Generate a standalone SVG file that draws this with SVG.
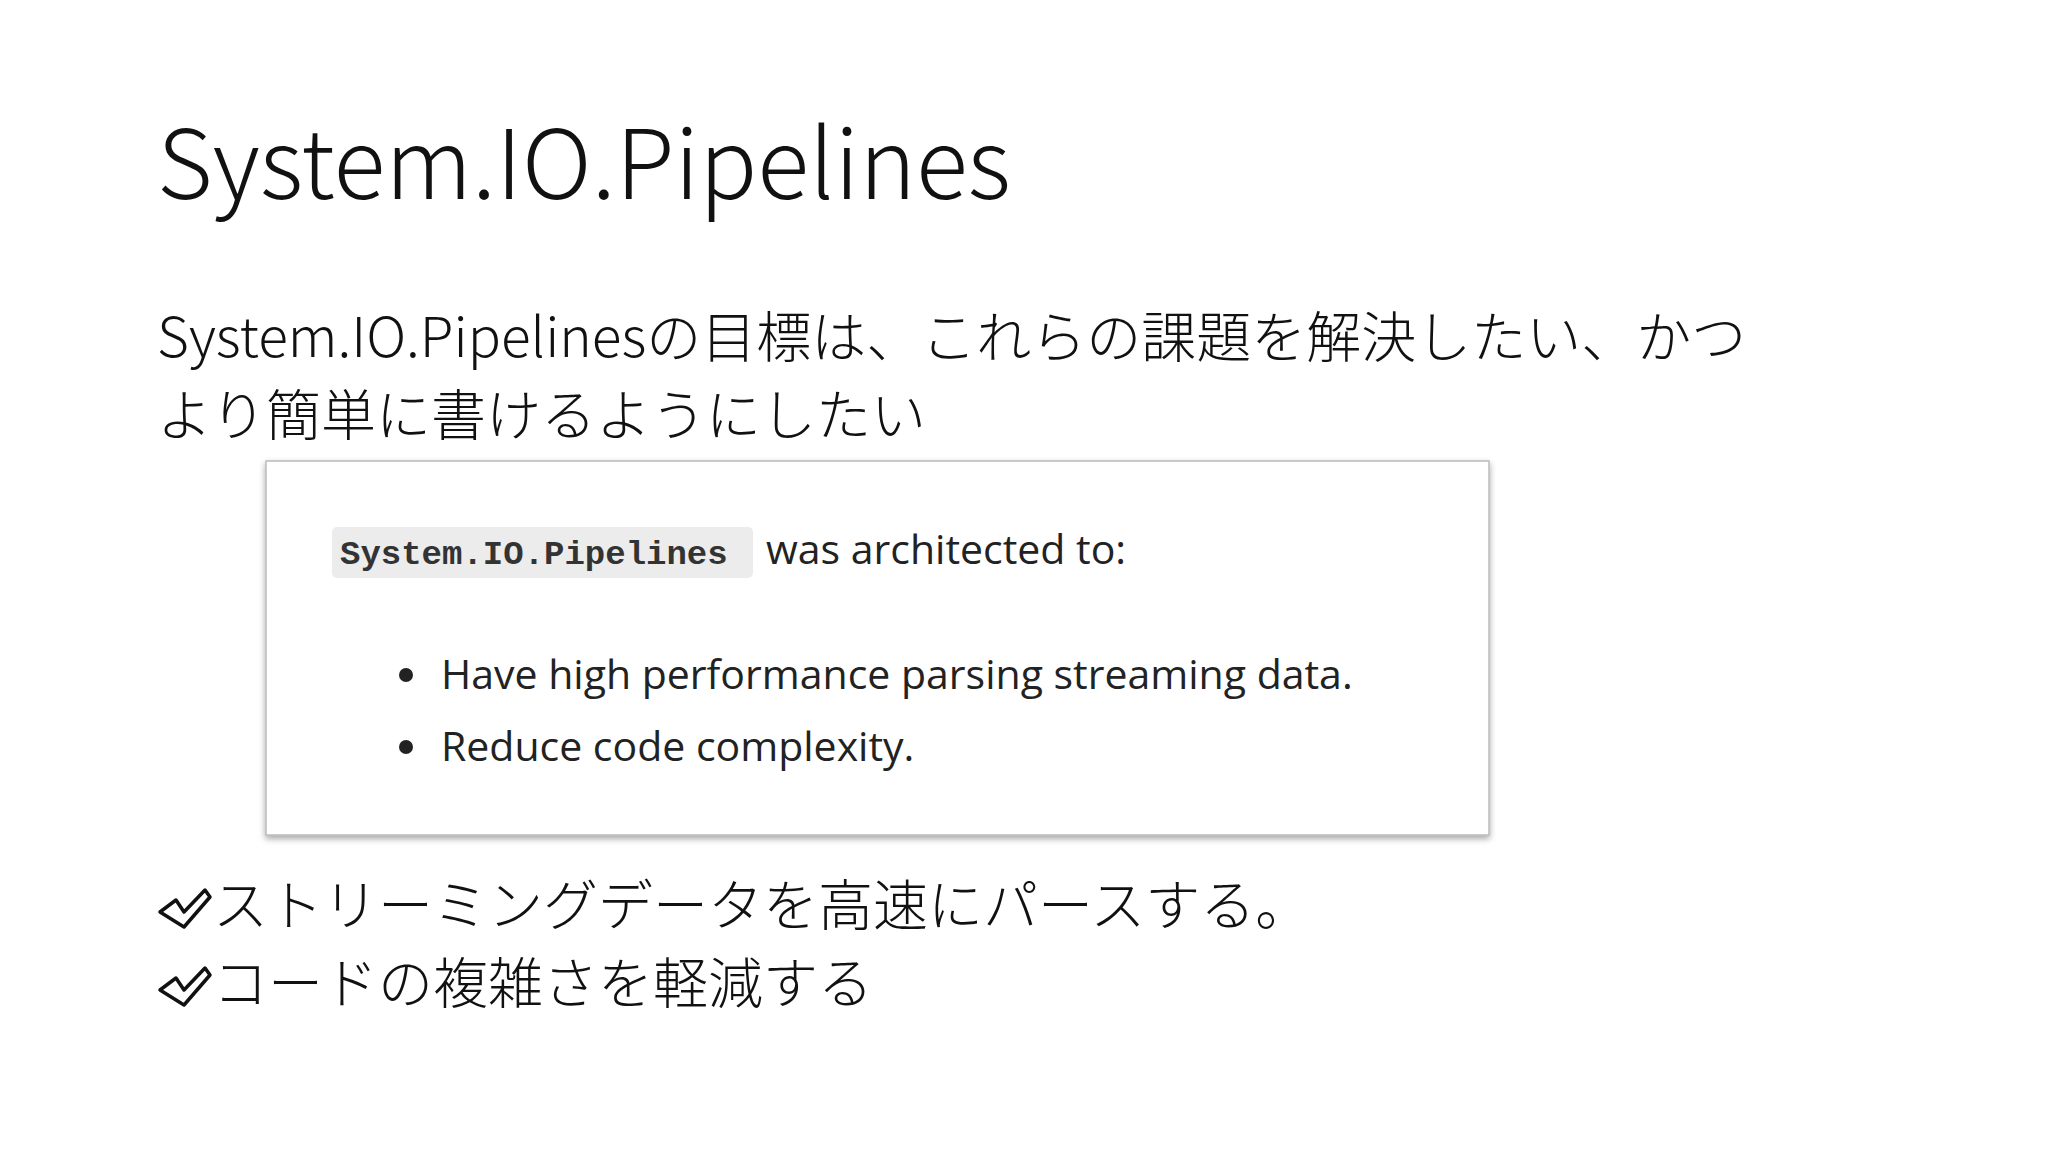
<svg xmlns="http://www.w3.org/2000/svg" width="2048" height="1152" viewBox="0 0 2048 1152">
<defs>
<style>
.jp{font-family:"Noto Sans CJK JP","Noto Sans",sans-serif;font-weight:300;fill:#111}
.in{font-family:"Open Sans","Noto Sans",sans-serif;fill:#222}
.chk{fill:none;stroke:#111;stroke-width:3.5;stroke-linejoin:round}
</style>
<filter id="sh" x="-5%" y="-5%" width="110%" height="115%"><feDropShadow dx="0" dy="3" stdDeviation="3" flood-color="#000" flood-opacity="0.35"/></filter>
</defs>
<rect width="2048" height="1152" fill="#fff"/>
<g id="title"><text class="jp" x="157" y="199" font-size="96">System.IO.Pipelines</text></g>
<g id="body">
<text class="jp" x="157" y="357" font-size="55">System.IO.Pipelinesの目標は、これらの課題を解決したい、かつ</text>
<text class="jp" x="157" y="435" font-size="55">より簡単に書けるようにしたい</text>
</g>
<g id="box">
<rect x="266" y="461" width="1223" height="374" fill="#fff" stroke="#bbb" stroke-width="1.5" filter="url(#sh)"/>
<rect x="332" y="527" width="421" height="51" rx="5" fill="#ececec"/>
<text x="340" y="564" font-size="34" font-family="Liberation Mono,monospace" font-weight="bold" fill="#333">System.IO.Pipelines</text>
<text class="in" x="766" y="564" font-size="41">was architected to:</text>
<circle cx="406" cy="675" r="7" fill="#222"/>
<text class="in" x="441" y="689" font-size="41">Have high performance parsing streaming data.</text>
<circle cx="406" cy="747" r="7" fill="#222"/>
<text class="in" x="441" y="761" font-size="41">Reduce code complexity.</text>
</g>
<g id="checks">
<path class="chk" d="M160 912 L176 900 L184 912 L205 890 L210 897 L184 927 Z"/>
<text class="jp" x="213" y="925" font-size="55">ストリーミングデータを高速にパースする。</text>
<path class="chk" d="M160 990 L176 978 L184 990 L205 968 L210 975 L184 1005 Z"/>
<text class="jp" x="213" y="1003" font-size="55">コードの複雑さを軽減する</text>
</g>
</svg>
